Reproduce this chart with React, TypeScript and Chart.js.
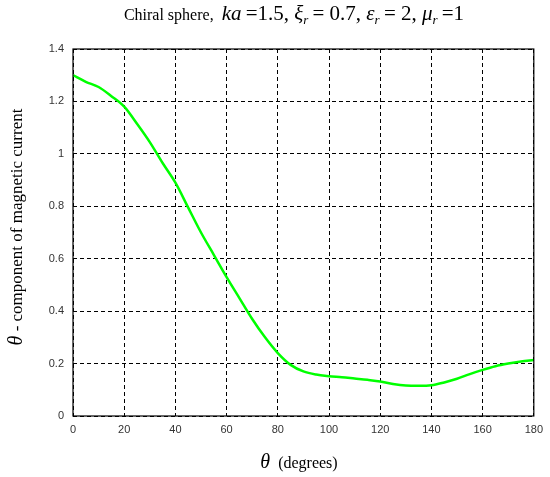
import React, { useEffect, useRef } from "react";
import { Chart, registerables } from "chart.js";

Chart.register(...registerables);

// θ (degrees) and θ-component of magnetic current
const thetaDeg = [0, 5, 10, 15, 20, 25, 30, 35, 40, 45, 50, 55, 60, 65, 70, 75, 80, 85, 90, 95, 100, 105, 110, 115, 120, 125, 130, 135, 140, 145, 150, 155, 160, 165, 170, 175, 180];
const thetaCurrent = [1.3, 1.275, 1.255, 1.22, 1.18, 1.115, 1.045, 0.965, 0.89, 0.795, 0.7, 0.615, 0.53, 0.45, 0.37, 0.3, 0.24, 0.195, 0.17, 0.158, 0.152, 0.148, 0.143, 0.138, 0.132, 0.122, 0.116, 0.115, 0.117, 0.128, 0.142, 0.16, 0.176, 0.19, 0.2, 0.208, 0.214];

const xTicks = [0, 20, 40, 60, 80, 100, 120, 140, 160, 180];
const yTicks = [0, 0.2, 0.4, 0.6, 0.8, 1, 1.2, 1.4];

const titleText = "Chiral sphere,";
const yLabelText = " - component of magnetic current";
const xLabelText = "  (degrees)";

type Seg = { t: string; font: string; dy?: number };

function drawSegs(ctx: CanvasRenderingContext2D, segs: Seg[], cx: number, y: number) {
  let total = 0;
  for (const s of segs) {
    ctx.font = s.font;
    total += ctx.measureText(s.t).width;
  }
  let x = cx - total / 2;
  ctx.textAlign = "left";
  ctx.textBaseline = "alphabetic";
  for (const s of segs) {
    ctx.font = s.font;
    ctx.fillText(s.t, x, y + (s.dy || 0));
    x += ctx.measureText(s.t).width;
  }
}

const SERIF = '"Liberation Serif", "Times New Roman", serif';

const textPlugin = {
  id: "textPlugin",
  afterDraw(chart: any) {
    const ctx: CanvasRenderingContext2D = chart.ctx;
    const a = chart.chartArea;
    ctx.save();
    // plot box
    ctx.strokeStyle = "#000";
    ctx.lineWidth = 1.2;
    ctx.setLineDash([]);
    ctx.strokeRect(a.left, a.top, a.right - a.left, a.bottom - a.top);

    ctx.fillStyle = "#000";
    const n = `16px ${SERIF}`;
    const m = `21px ${SERIF}`;
    const mi = `italic 21px ${SERIF}`;
    const sub = `italic 13px ${SERIF}`;
    drawSegs(ctx, [
      { t: titleText + "  ", font: n },
      { t: "ka", font: mi },
      { t: "\u2009=1.5, ", font: m },
      { t: "ξ", font: mi },
      { t: "r", font: sub, dy: 4 },
      { t: "\u2009= 0.7, ", font: m },
      { t: "ε", font: mi },
      { t: "r", font: sub, dy: 4 },
      { t: "\u2009= 2, ", font: m },
      { t: "μ", font: mi },
      { t: "r", font: sub, dy: 4 },
      { t: "\u2009=1", font: m },
    ], 294, 20);

    // x label
    drawSegs(ctx, [
      { t: "θ", font: `italic 20px ${SERIF}` },
      { t: xLabelText, font: `16px ${SERIF}` },
    ], 299, 468);

    // y label
    ctx.translate(22, 227);
    ctx.rotate(-Math.PI / 2);
    drawSegs(ctx, [
      { t: "θ", font: `italic 20px ${SERIF}` },
      { t: yLabelText, font: `17px ${SERIF}` },
    ], 0, 0);
    ctx.restore();
  },
};

export default function App() {
  const ref = useRef<HTMLCanvasElement>(null);
  useEffect(() => {
    if (!ref.current) return;
    const chart = new Chart(ref.current, {
      type: "line",
      data: {
        datasets: [
          {
            data: thetaDeg.map((x, i) => ({ x, y: thetaCurrent[i] })),
            borderColor: "#00ff00",
            borderWidth: 2.5,
            pointRadius: 0,
            cubicInterpolationMode: "monotone",
            fill: false,
          },
        ],
      },
      options: {
        animation: false,
        responsive: false,
        layout: { padding: { top: 49, right: 12, left: 0, bottom: 0 } },
        plugins: { legend: { display: false }, title: { display: false }, tooltip: { enabled: false } },
        scales: {
          x: {
            type: "linear",
            min: 0,
            max: 180,
            afterFit: (s: any) => { s.height = 61; },
            afterBuildTicks: (s: any) => { s.ticks = xTicks.map((v) => ({ value: v })); },
            ticks: {
              autoSkip: false,
              maxRotation: 0,
              padding: 7,
              color: "#333",
              font: { family: '"Liberation Sans", Arial, sans-serif', size: 11 },
              callback: (v: any) => String(v),
            },
            grid: { color: "#000", lineWidth: 1, drawTicks: false, tickLength: 0 },
            border: { display: false, dash: [4, 3] },
          },
          y: {
            type: "linear",
            min: 0,
            max: 1.4,
            afterFit: (s: any) => { s.width = 73; },
            afterBuildTicks: (s: any) => { s.ticks = yTicks.map((v) => ({ value: v })); },
            ticks: {
              autoSkip: false,
              padding: 9,
              color: "#333",
              font: { family: '"Liberation Sans", Arial, sans-serif', size: 11 },
              callback: (v: any) => String(Number(Number(v).toFixed(1))),
            },
            grid: { color: "#000", lineWidth: 1, drawTicks: false, tickLength: 0 },
            border: { display: false, dash: [4, 3] },
          },
        },
      },
      plugins: [textPlugin],
    } as any);
    return () => chart.destroy();
  }, []);
  return (
    <div style={{ position: "fixed", left: 0, top: 0, width: 550, height: 477, background: "#fff" }}>
      <canvas ref={ref} width={550} height={477} style={{ display: "block", width: 550, height: 477 }} />
    </div>
  );
}
